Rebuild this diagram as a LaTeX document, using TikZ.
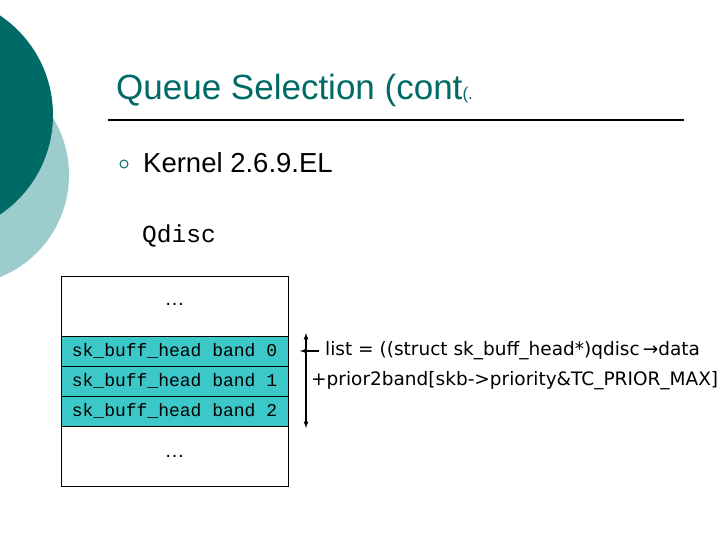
\documentclass[tikz,border=0pt]{standalone}
\usepackage{fontspec}
\setmainfont{Liberation Sans}
\newfontfamily\mono{Liberation Mono}
\newfontfamily\dv{DejaVu Sans}
\definecolor{dark}{HTML}{006A66}
\definecolor{light}{HTML}{9CCCCC}
\definecolor{band}{HTML}{3CC8C8}
\tikzset{row/.style={draw=black,fill=band,minimum width=227pt,minimum height=30pt,inner sep=0pt,font=\mono\fontsize{18}{18}\selectfont},
blank/.style={draw=black,minimum width=227pt,minimum height=60pt,inner sep=0pt,font=\fontsize{20}{20}\selectfont}}
\begin{document}
\begin{tikzpicture}[x=1pt,y=-1pt]
\useasboundingbox (0,0) rectangle (720,540);
\clip (0,0) rectangle (720,540);
\fill[light] (-41,175) circle (110);
\fill[dark] (-67,115) circle (120);
\node[anchor=west,text=dark,font=\fontsize{35}{35}\selectfont,inner sep=0] (title) at (116,90) {Queue Selection (cont\raisebox{0pt}{\fontsize{17}{17}\selectfont(.}};
\draw[line width=1.5pt] (108,120) -- (684,120);
\node[draw=dark,circle,line width=1pt,inner sep=0,minimum size=8pt] (bul) at (124,164) {};
\node[anchor=west,font=\fontsize{27.5}{28}\selectfont,inner sep=0] (k) at (143,163) {Kernel 2.6.9.EL};
\node[anchor=west,font=\mono\fontsize{24.5}{25}\selectfont,inner sep=0] (q) at (142,236) {Qdisc};
\node[blank] (top) at (174.5,306) {\raisebox{4pt}{\dots}};
\node[row] (r0) at (174.5,351) {sk\_buff\_head band 0};
\node[row] (r1) at (174.5,381) {sk\_buff\_head band 1};
\node[row] (r2) at (174.5,411) {sk\_buff\_head band 2};
\node[blank] (bot) at (174.5,456) {\raisebox{-2pt}{\dots}};
\coordinate (a1) at (306,333);
\coordinate (a2) at (306,428);
\draw[line width=1.2pt,latex-latex] (a1) -- (a2);
\node[anchor=west,font=\dv\fontsize{18.5}{19}\selectfont,inner sep=0] (l1) at (325,351) {list = ((struct sk\_buff\_head*)qdisc\,→data};
\node[anchor=west,font=\dv\fontsize{18.5}{19}\selectfont,inner sep=0] (l2) at (311,381) {+prior2band[skb->priority\&TC\_PRIOR\_MAX]};
\draw[line width=1.2pt,-latex] (l1.west) ++(-6,0) coordinate (h) -- ++(-19,0);
\end{tikzpicture}
\end{document}
